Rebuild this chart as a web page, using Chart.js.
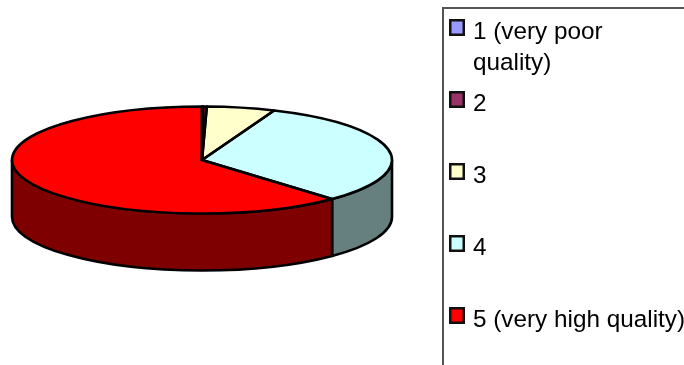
<!DOCTYPE html>
<html>
<head>
<meta charset="utf-8">
<style>html,body{margin:0;padding:0;background:#fff}canvas{display:block}</style>
<script src="https://cdn.jsdelivr.net/npm/chart.js@4"></script>
</head>
<body>
<canvas id="chart" width="684" height="365"></canvas>
<script>
// Survey answers on a five-point quality scale, in percent
const categories = ['1 (very poor quality)', '2', '3', '4', '5 (very high quality)'];
const shares = [0.1, 0.3, 5.8, 31.8, 62.0];
const faceColors = ['#9999FF', '#993366', '#FFFFCC', '#CCFFFF', '#FF0000'];
const wallColors = ['#4C4C7F', '#4C1933', '#7F7F66', '#667F7F', '#7F0000'];
const legendLines = [['1 (very poor', 'quality)'], ['2'], ['3'], ['4'], ['5 (very high quality)']];

const TILT = 53.5 / 190;   // vertical squash of the pie disc
const DEPTH = 57;          // height of the disc's side wall
const OUTLINE = '#000000';
const LINE_WIDTH = 2.6;

// Fake 3D: squash the library's arcs into a tilted disc and add a side wall below them
const tiltedPie = {
  id: 'tiltedPie',
  beforeDatasetsDraw(chart) {
    const ctx = chart.ctx;
    const arcs = chart.getDatasetMeta(0).data;
    const { x, y, outerRadius: r } = arcs[0];
    const ry = r * TILT;
    // Only the front half of the rim (canvas angles 0..PI) can be seen
    arcs.forEach((arc, i) => {
      const a0 = Math.max(arc.startAngle, 0);
      const a1 = Math.min(arc.endAngle, Math.PI);
      if (a1 <= a0) return;
      ctx.save();
      ctx.beginPath();
      ctx.ellipse(x, y, r, ry, 0, a0, a1);
      ctx.ellipse(x, y + DEPTH, r, ry, 0, a1, a0, true);
      ctx.closePath();
      ctx.fillStyle = wallColors[i];
      ctx.fill();
      ctx.lineWidth = LINE_WIDTH;
      ctx.strokeStyle = OUTLINE;
      ctx.lineJoin = 'round';
      ctx.stroke();
      ctx.restore();
    });
    ctx.save();
    ctx.translate(0, y);
    ctx.scale(1, TILT);
    ctx.translate(0, -y);
  },
  afterDatasetsDraw(chart) {
    const ctx = chart.ctx;
    ctx.restore();
    const arcs = chart.getDatasetMeta(0).data;
    ctx.save();
    ctx.lineWidth = LINE_WIDTH;
    ctx.strokeStyle = OUTLINE;
    ctx.lineJoin = 'round';
    arcs.forEach(arc => {
      ctx.beginPath();
      ctx.moveTo(arc.x, arc.y);
      ctx.ellipse(arc.x, arc.y, arc.outerRadius, arc.outerRadius * TILT, 0, arc.startAngle, arc.endAngle);
      ctx.closePath();
      ctx.stroke();
    });
    ctx.restore();
  }
};

// Legend panel with wrapped entries and uneven row spacing
const sideLegend = {
  id: 'sideLegend',
  afterDraw(chart) {
    const ctx = chart.ctx;
    const swatchTops = [19, 91, 163, 235, 307];
    ctx.save();
    ctx.strokeStyle = '#555555';
    ctx.lineWidth = 2;
    ctx.beginPath();
    ctx.moveTo(443, 365);
    ctx.lineTo(443, 8);
    ctx.lineTo(684, 8);
    ctx.stroke();
    ctx.font = '24.3px "Liberation Sans", Arial, sans-serif';
    ctx.textBaseline = 'alphabetic';
    swatchTops.forEach((top, i) => {
      ctx.fillStyle = faceColors[i];
      ctx.strokeStyle = '#111111';
      ctx.lineWidth = 2.5;
      ctx.fillRect(450.25, top + 1.25, 13.5, 14.5);
      ctx.strokeRect(450.25, top + 1.25, 13.5, 14.5);
      ctx.fillStyle = '#000000';
      legendLines[i].forEach((line, k) => {
        ctx.fillText(line, 473, top + 20 + k * 31);
      });
    });
    ctx.restore();
  }
};

new Chart(document.getElementById('chart'), {
  type: 'pie',
  data: {
    labels: categories,
    datasets: [{
      data: shares,
      backgroundColor: faceColors,
      borderWidth: 0,
      clip: false,
      radius: 190
    }]
  },
  options: {
    responsive: false,
    animation: false,
    events: [],
    layout: { padding: { right: 280, bottom: 45 } },
    plugins: {
      legend: { display: false },
      tooltip: { enabled: false }
    }
  },
  plugins: [tiltedPie, sideLegend]
});
</script>
</body>
</html>
